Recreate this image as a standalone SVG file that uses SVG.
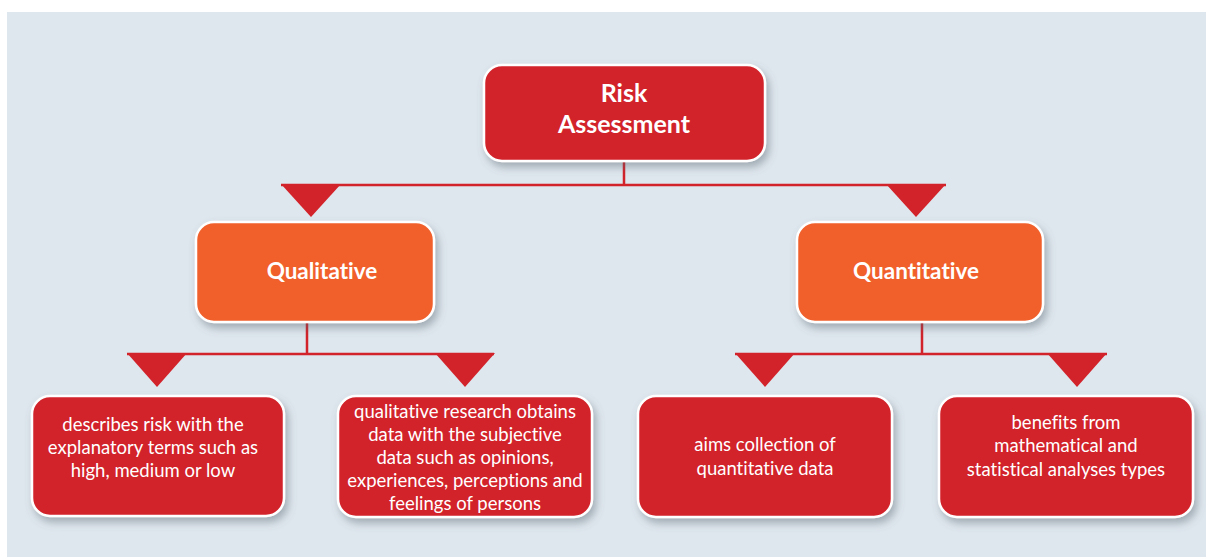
<svg xmlns="http://www.w3.org/2000/svg" width="1206" height="557" viewBox="0 0 1206 557">
  <defs>
    <filter id="sh" x="-10%" y="-10%" width="125%" height="135%">
      <feDropShadow dx="3" dy="5" stdDeviation="4" flood-color="#55606a" flood-opacity="0.45"/>
    </filter>
    <style>
      .red{fill:#d2222a;stroke:#ffffff;stroke-width:2.5}
      .org{fill:#f15f2a;stroke:#ffffff;stroke-width:2.5}
      .ln{stroke:#d2222a;stroke-width:2.5;fill:none}
      .tri{fill:#d2222a}
      text{font-variant-ligatures:none;font-feature-settings:"liga" 0}
      .tb{font-family:Lato,"Open Sans",sans-serif;font-weight:bold;fill:#ffffff;text-anchor:middle}
      .t{font-family:Lato,"Open Sans",sans-serif;font-size:18.5px;fill:#ffffff;text-anchor:middle}
    </style>
  </defs>
  <rect x="0" y="0" width="1206" height="557" fill="#ffffff"/>
  <rect x="7" y="12" width="1199" height="545" fill="#dfe7ee"/>

  <g id="connectors">
    <path class="ln" d="M624,161 V185 M281,185 H946"/>
    <polygon class="tri" points="281,184 341,184 311,217"/>
    <polygon class="tri" points="886,184 946,184 916,217"/>
    <path class="ln" d="M307,322 V354 M127,354 H494"/>
    <polygon class="tri" points="127,353 187,353 157,387"/>
    <polygon class="tri" points="435,353 495,353 465,387"/>
    <path class="ln" d="M922,322 V354 M735,354 H1107"/>
    <polygon class="tri" points="735,353 795,353 765,387"/>
    <polygon class="tri" points="1047,353 1107,353 1077,387"/>
  </g>

  <g id="root">
    <rect class="red" x="484" y="65" width="281" height="96" rx="18" filter="url(#sh)"/>
    <text class="tb" font-size="25" x="624" y="102">Risk</text>
    <text class="tb" font-size="25" x="624" y="133">Assessment</text>
  </g>

  <g id="qualitative">
    <rect class="org" x="196" y="222" width="238" height="100" rx="18" filter="url(#sh)"/>
    <text class="tb" font-size="22.5" x="322" y="279">Qualitative</text>
  </g>

  <g id="quantitative">
    <rect class="org" x="797" y="222" width="246" height="100" rx="18" filter="url(#sh)"/>
    <text class="tb" font-size="22.5" x="916" y="279">Quantitative</text>
  </g>

  <g id="leaf1">
    <rect class="red" x="32" y="396" width="252" height="120" rx="18" filter="url(#sh)"/>
    <text class="t" x="153" y="431">describes risk with the</text>
    <text class="t" x="153" y="454">explanatory terms such as</text>
    <text class="t" x="153" y="477">high, medium or low</text>
  </g>

  <g id="leaf2">
    <rect class="red" x="338" y="396" width="254" height="121" rx="18" filter="url(#sh)"/>
    <text class="t" x="465" y="418">qualitative research obtains</text>
    <text class="t" x="465" y="441">data with the subjective</text>
    <text class="t" x="465" y="464">data such as opinions,</text>
    <text class="t" x="465" y="487">experiences, perceptions and</text>
    <text class="t" x="465" y="510">feelings of persons</text>
  </g>

  <g id="leaf3">
    <rect class="red" x="638" y="396" width="254" height="121" rx="18" filter="url(#sh)"/>
    <text class="t" x="765" y="451">aims collection of</text>
    <text class="t" x="765" y="475">quantitative data</text>
  </g>

  <g id="leaf4">
    <rect class="red" x="939" y="396" width="254" height="121" rx="18" filter="url(#sh)"/>
    <text class="t" x="1066" y="429">benefits from</text>
    <text class="t" x="1066" y="452">mathematical and</text>
    <text class="t" x="1066" y="476">statistical analyses types</text>
  </g>
</svg>
